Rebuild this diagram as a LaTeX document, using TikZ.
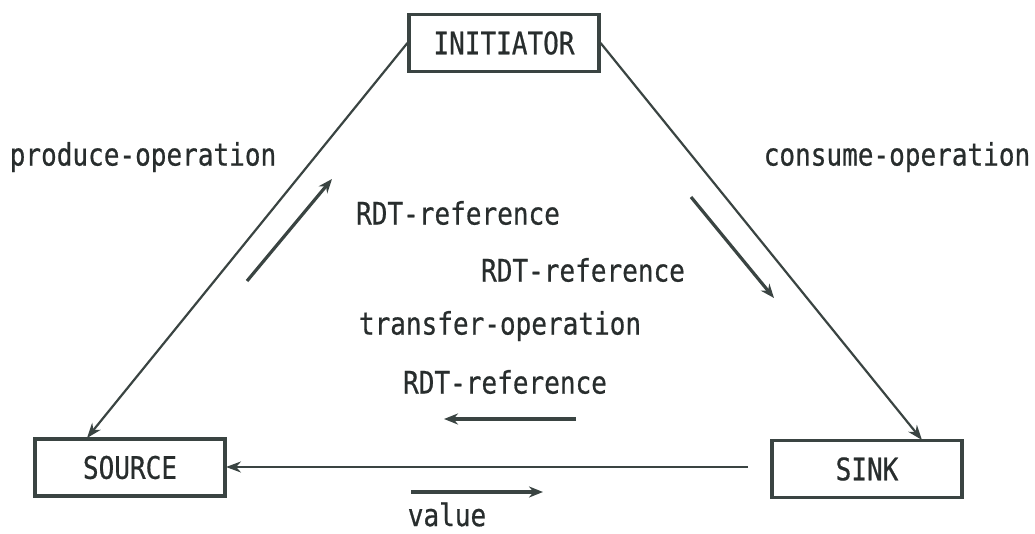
\documentclass[tikz,border=0pt]{standalone}
\usepackage{fontspec}
\newfontfamily\monofnt[FakeStretch=0.84,FakeBold=0.6]{DejaVu Sans Mono}
\usetikzlibrary{arrows.meta,calc}
\definecolor{ink}{RGB}{58,68,66}
\definecolor{txt}{RGB}{40,45,45}
\begin{document}
\begin{tikzpicture}[x=1pt,y=-1pt,
  lbl/.style={text=txt,font=\monofnt\fontsize{31}{36}\selectfont,inner sep=0pt},
  entity/.style={draw=ink,line width=3.2pt,fill=white,text=txt,font=\monofnt\fontsize{31}{36}\selectfont,minimum width=190pt,minimum height=57pt,inner sep=0pt},
  conn/.style={draw=ink,line width=2.2pt,-{Stealth[length=15pt,width=11pt]}},
  flow/.style={draw=ink,line width=3.2pt,-{Stealth[length=14pt,width=11pt]}}]
\useasboundingbox (0,0) rectangle (1035,534);
\node[entity] (init) at (504,43) {INITIATOR};
\node[entity] (src) at (130,467.5) {SOURCE};
\node[entity] (sink) at (867,469) {SINK};
\coordinate (srcin) at (87,438);
\coordinate (sinkin) at (922,440);
\coordinate (sinkout) at (748,467);
\coordinate (srcend) at (226,467);
\draw[conn] (init.west) -- (srcin);
\draw[conn] (init.east) -- (sinkin);
\draw[conn] (sinkout) -- (srcend);
% small flow arrows
\coordinate (a1s) at (247,281); \coordinate (a1e) at (332,179);
\coordinate (a2s) at (691,197); \coordinate (a2e) at (774,298);
\coordinate (a3s) at (576,419); \coordinate (a3e) at (444,419);
\coordinate (a4s) at (411,492); \coordinate (a4e) at (543,492);
\draw[flow] (a1s) -- (a1e);
\draw[flow] (a2s) -- (a2e);
\draw[flow] (a3s) -- (a3e);
\draw[flow] (a4s) -- (a4e);
% labels
\node[lbl] (l1) at (143,157) {produce-operation};
\node[lbl] (l2) at (897,157) {consume-operation};
\node[lbl] (l3) at (458,213) {RDT-reference};
\node[lbl] (l4) at (583,270) {RDT-reference};
\node[lbl] (l5) at (500,326) {transfer-operation};
\node[lbl] (l6) at (505,382) {RDT-reference};
\node[lbl] (l7) at (447,514.5) {value};
\end{tikzpicture}
\end{document}
